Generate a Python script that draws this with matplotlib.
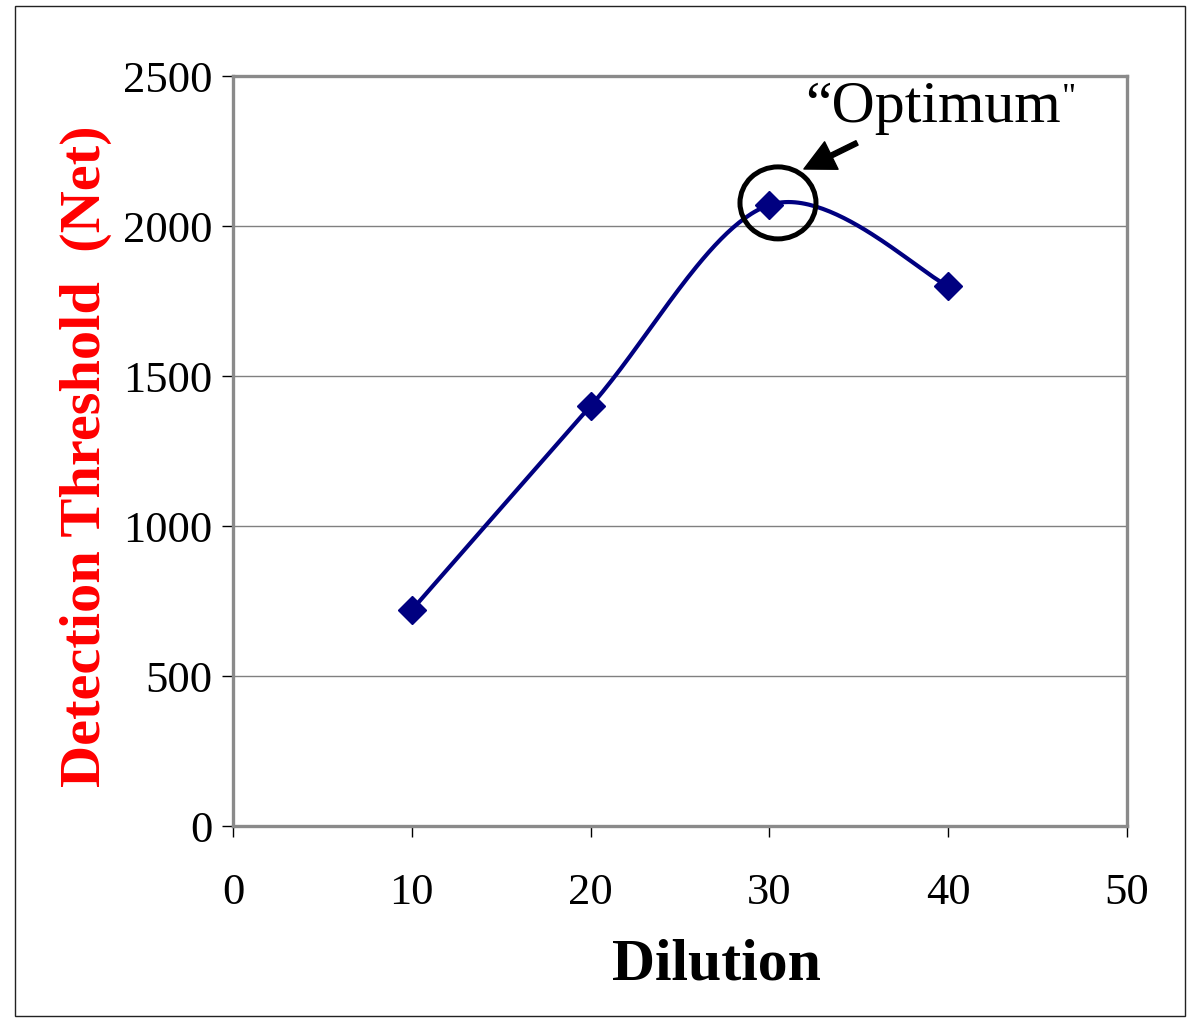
import numpy as np
import matplotlib
matplotlib.use("Agg")
import matplotlib.pyplot as plt
from matplotlib.patches import Ellipse, Rectangle

# ---- data ----
dilution = [10, 20, 30, 40]
threshold = [720, 1400, 2070, 1800]
x_ticks = [0, 10, 20, 30, 40, 50]
y_ticks = [0, 500, 1000, 1500, 2000, 2500]
x_label = "Dilution"
y_label = "Detection Threshold  (Net)"
note = "\u201cOptimum"

plt.rcParams['font.family'] = ['Liberation Serif', 'DejaVu Serif']

W, H = 1190, 1019
fig = plt.figure(figsize=(W / 100, H / 100), dpi=100)
ax = fig.add_axes([233 / W, 1 - 826 / H, (1127 - 233) / W, (826 - 76) / H])

# Excel-like smoothing (Catmull-Rom as cubic Bezier)
def smooth(xs, ys, n=60):
    P = np.column_stack([xs, ys]).astype(float)
    P = np.vstack([P[0], P, P[-1]])
    out = []
    for i in range(1, len(P) - 2):
        p0, p1, p2, p3 = P[i - 1], P[i], P[i + 1], P[i + 2]
        c1 = p1 + (p2 - p0) / 6.0
        c2 = p2 - (p3 - p1) / 6.0
        t = np.linspace(0, 1, n)[:, None]
        seg = ((1 - t) ** 3) * p1 + 3 * ((1 - t) ** 2) * t * c1 + 3 * (1 - t) * t ** 2 * c2 + t ** 3 * p2
        out.append(seg if i == 1 else seg[1:])
    s = np.vstack(out)
    return s[:, 0], s[:, 1]

sx, sy = smooth(dilution, threshold)
ax.plot(sx, sy, color='#000080', lw=3.0, zorder=3, solid_capstyle='round')
ax.plot(dilution, threshold, ls='none', marker='D', ms=14.5, color='#000080',
        mec='#000080', mew=1, zorder=4)

ax.set_xlim(0, 50)
ax.set_ylim(0, 2500)
ax.set_xticks(x_ticks)
ax.set_yticks(y_ticks)
ax.yaxis.grid(True, color='#808080', lw=1.0)
ax.set_axisbelow(True)
for s in ax.spines.values():
    s.set_color('#8a8a8a')
    s.set_linewidth(2.4)

ax.tick_params(axis='both', labelsize=32, color='black', width=1, direction='out')
ax.tick_params(axis='y', length=8, pad=7)
ax.tick_params(axis='x', length=8, pad=26)

# circle around the optimum point
ax.add_patch(Ellipse((30.48, 2077), width=76 / 894 * 50, height=72 / 750 * 2500,
                     fill=False, ec='black', lw=3.6, zorder=5))
# arrow
ax.annotate('', xy=(31.93, 2190), xytext=(34.9, 2277),
            arrowprops=dict(facecolor='black', edgecolor='black', width=3.5,
                            headwidth=22, headlength=22, shrink=0))
ax.text(32.0, 2347, note, fontsize=43, va='baseline', ha='left')
ax.text(46.35, 2392, '"', fontsize=25, va='baseline', ha='left')

fig.text(716 / W, 1 - 966 / H, x_label, fontsize=43, fontweight='bold',
         ha='center', va='center')
fig.text(86 / W, 1 - 456 / H, y_label, fontsize=42, fontweight='bold', color='red',
         rotation=90, ha='center', va='center')

fig.add_artist(Rectangle((15 / W, 1 - 1016 / H), 1170 / W, 1010 / H,
                         transform=fig.transFigure, fill=False, ec='#222222', lw=1.0))

fig.savefig('out.png', dpi=100)
